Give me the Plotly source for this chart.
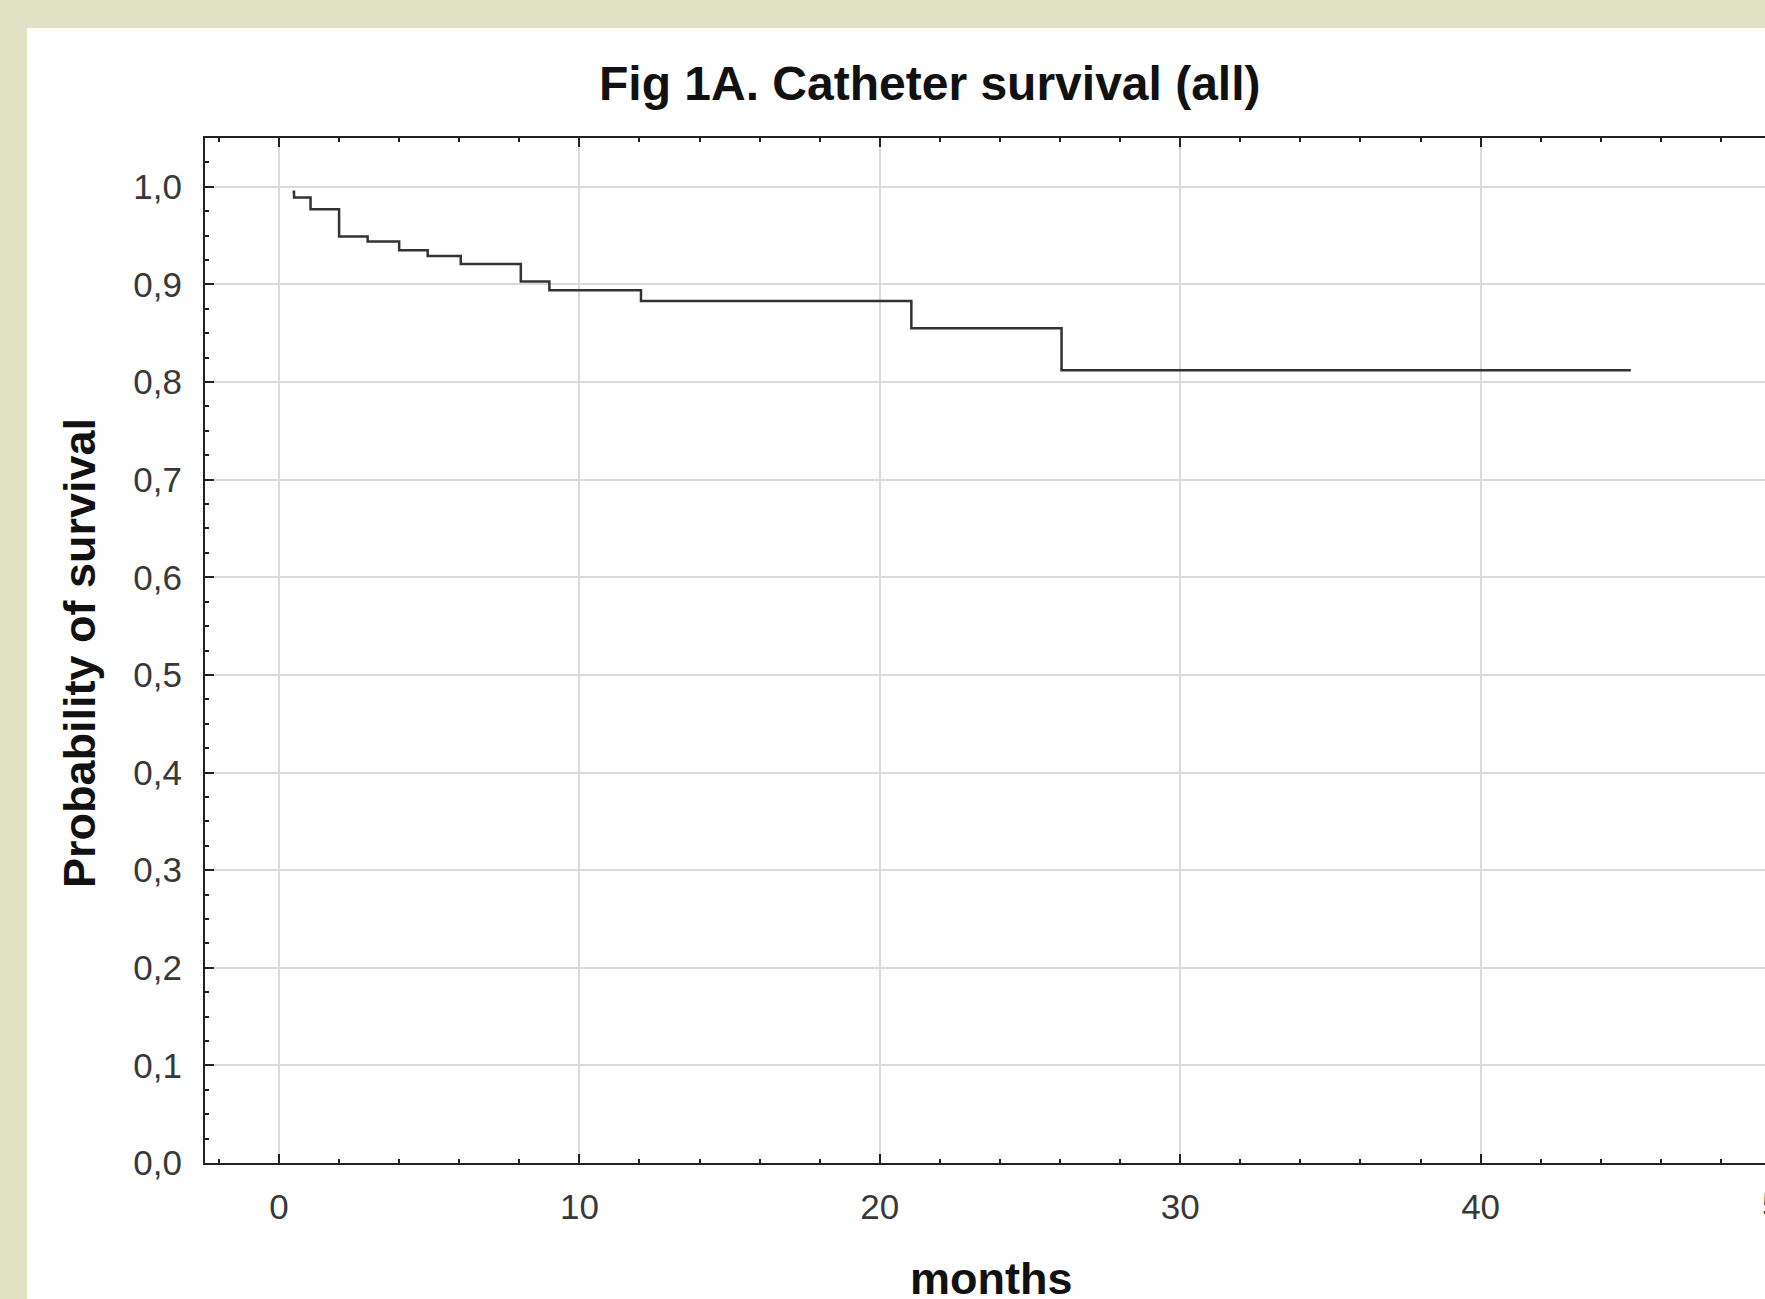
import plotly.graph_objects as go

# Kaplan-Meier step data
months = [0.45, 0.5, 1.05, 2.0, 2.95, 4.0, 4.95, 6.05, 8.05, 9.0, 12.05, 21.05, 26.05, 45.0]
survival = [0.995, 0.989, 0.977, 0.949, 0.944, 0.935, 0.929, 0.921, 0.903, 0.894, 0.883, 0.855, 0.812, 0.812]

x_ticks = [0, 10, 20, 30, 40, 50]
y_ticks = [0.0, 0.1, 0.2, 0.3, 0.4, 0.5, 0.6, 0.7, 0.8, 0.9, 1.0]

title_text = "Fig 1A. Catheter survival (all)"
x_label = "months"
y_label = "Probability of survival"

W, H = 1765, 1299
L, R, T, B = 205, 1765, 138, 1163  # plot area pixels
px_per_month = 30.04
x0_px = 279
x_min = (L - x0_px) / px_per_month
x_max = (R - x0_px) / px_per_month

FONT = "Liberation Sans, Arial, Helvetica, sans-serif"
AXIS_COL = "#222222"
GRID_COL = "#dadada"
TICK_FONT = dict(family=FONT, size=35, color="#383838")

fig = go.Figure()
fig.add_trace(go.Scatter(
    x=months, y=survival, mode="lines", line_shape="hv",
    line=dict(color="#333333", width=2.5), showlegend=False, hoverinfo="x+y"))

def px_to_paper_x(px):
    return (px - L) / (R - L)

def px_to_paper_y(py):
    return (B - py) / (B - T)

fig.update_layout(
    width=W, height=H,
    margin=dict(l=L, r=W - R, t=T, b=H - B, pad=0),
    paper_bgcolor="#e1e1c6",
    plot_bgcolor="white",
    separators=",.",
    showlegend=False,
    shapes=[dict(type="rect", xref="paper", yref="paper", layer="below",
                 x0=px_to_paper_x(27), x1=px_to_paper_x(W + 20),
                 y0=px_to_paper_y(H + 20), y1=px_to_paper_y(28),
                 fillcolor="white", line=dict(width=0))],
    annotations=[
        dict(text=title_text, xref="paper", yref="paper",
             x=px_to_paper_x(930), y=px_to_paper_y(84), xanchor="center", yanchor="middle",
             showarrow=False, font=dict(family=FONT, size=48, color="#111111"),
             ),
        dict(text="<b>" + y_label + "</b>", xref="paper", yref="paper",
             x=px_to_paper_x(79), y=px_to_paper_y(653), xanchor="center", yanchor="middle",
             textangle=-90, showarrow=False, font=dict(family=FONT, size=45, color="#111111")),
        dict(text="<b>" + x_label + "</b>", xref="paper", yref="paper",
             x=px_to_paper_x(991), y=px_to_paper_y(1278), xanchor="center", yanchor="middle",
             showarrow=False, font=dict(family=FONT, size=45, color="#111111")),
        dict(text=str(x_ticks[-1]), xref="paper", yref="paper",
             x=px_to_paper_x(x0_px + x_ticks[-1] * px_per_month), y=px_to_paper_y(1204),
             xanchor="center", yanchor="middle", showarrow=False, font=TICK_FONT),
    ],
)
fig.layout.annotations[0].font.update(weight="bold")

fig.update_xaxes(
    range=[x_min, x_max], tickvals=x_ticks, ticktext=[str(v) for v in x_ticks],
    showgrid=True, gridcolor=GRID_COL, gridwidth=1.5,
    zeroline=False, showline=True, linecolor=AXIS_COL, linewidth=2, mirror="ticks",
    ticks="inside", ticklen=9, tickwidth=2, tickcolor=AXIS_COL,
    tickfont=TICK_FONT, ticklabelstandoff=12,
    minor=dict(dtick=2, tick0=0, ticks="inside", ticklen=4, tickwidth=2,
               tickcolor=AXIS_COL, showgrid=False),
)
fig.update_yaxes(
    range=[0, 1.05], tickvals=y_ticks, tickformat=".1f",
    showgrid=True, gridcolor=GRID_COL, gridwidth=1.5,
    zeroline=False, showline=True, linecolor=AXIS_COL, linewidth=2, mirror=False,
    ticks="inside", ticklen=9, tickwidth=2, tickcolor=AXIS_COL,
    tickfont=TICK_FONT, ticklabelstandoff=14,
    minor=dict(dtick=0.025, tick0=0, ticks="inside", ticklen=4, tickwidth=2,
               tickcolor=AXIS_COL, showgrid=False),
)

fig.write_html(
    "out.html",
    config={"displayModeBar": False},
    post_script="document.body.style.margin='0';document.body.style.padding='0';"
                "document.body.style.overflow='hidden';",
)
